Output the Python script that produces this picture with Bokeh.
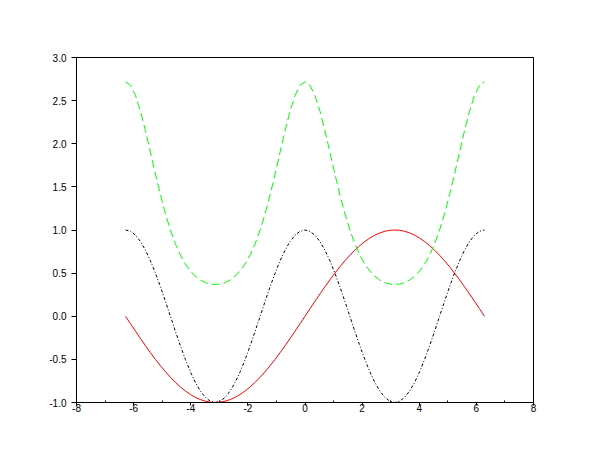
from bokeh.plotting import figure
from bokeh.models import Range1d, FixedTicker
from bokeh.embed import file_html
from bokeh.resources import INLINE

x_vals = [-6.283, -6.109, -5.934, -5.760, -5.585, -5.411, -5.236, -5.061, -4.887, -4.712,
          -4.538, -4.363, -4.189, -4.014, -3.840, -3.665, -3.491, -3.316, -3.142, -2.967,
          -2.793, -2.618, -2.443, -2.269, -2.094, -1.920, -1.745, -1.571, -1.396, -1.222,
          -1.047, -0.873, -0.698, -0.524, -0.349, -0.175, 0.0,
          0.175, 0.349, 0.524, 0.698, 0.873, 1.047, 1.222, 1.396, 1.571, 1.745,
          1.920, 2.094, 2.269, 2.443, 2.618, 2.793, 2.967, 3.142, 3.316, 3.491,
          3.665, 3.840, 4.014, 4.189, 4.363, 4.538, 4.712, 4.887, 5.061, 5.236,
          5.411, 5.585, 5.760, 5.934, 6.109, 6.283]

red_vals = [0.0, -0.0872, -0.1736, -0.2588, -0.3420, -0.4226, -0.5, -0.5736, -0.6428, -0.7071,
            -0.7660, -0.8192, -0.8660, -0.9063, -0.9397, -0.9659, -0.9848, -0.9962, -1.0,
            -0.9962, -0.9848, -0.9659, -0.9397, -0.9063, -0.8660, -0.8192, -0.7660, -0.7071,
            -0.6428, -0.5736, -0.5, -0.4226, -0.3420, -0.2588, -0.1736, -0.0872, 0.0,
            0.0872, 0.1736, 0.2588, 0.3420, 0.4226, 0.5, 0.5736, 0.6428, 0.7071,
            0.7660, 0.8192, 0.8660, 0.9063, 0.9397, 0.9659, 0.9848, 0.9962, 1.0,
            0.9962, 0.9848, 0.9659, 0.9397, 0.9063, 0.8660, 0.8192, 0.7660, 0.7071,
            0.6428, 0.5736, 0.5, 0.4226, 0.3420, 0.2588, 0.1736, 0.0872, 0.0]

green_vals = [2.7183, 2.6773, 2.5592, 2.3774, 2.1511, 1.9018, 1.6487, 1.4078, 1.1896, 1.0,
              0.8406, 0.7103, 0.6065, 0.5258, 0.4649, 0.4206, 0.3907, 0.3735, 0.3679,
              0.3735, 0.3907, 0.4206, 0.4649, 0.5258, 0.6065, 0.7103, 0.8406, 1.0,
              1.1896, 1.4078, 1.6487, 1.9018, 2.1511, 2.3774, 2.5592, 2.6773, 2.7183,
              2.6773, 2.5592, 2.3774, 2.1511, 1.9018, 1.6487, 1.4078, 1.1896, 1.0,
              0.8406, 0.7103, 0.6065, 0.5258, 0.4649, 0.4206, 0.3907, 0.3735, 0.3679,
              0.3735, 0.3907, 0.4206, 0.4649, 0.5258, 0.6065, 0.7103, 0.8406, 1.0,
              1.1896, 1.4078, 1.6487, 1.9018, 2.1511, 2.3774, 2.5592, 2.6773, 2.7183]

black_vals = [1.0, 0.9848, 0.9397, 0.8660, 0.7660, 0.6428, 0.5, 0.3420, 0.1736, 0.0,
              -0.1736, -0.3420, -0.5, -0.6428, -0.7660, -0.8660, -0.9397, -0.9848, -1.0,
              -0.9848, -0.9397, -0.8660, -0.7660, -0.6428, -0.5, -0.3420, -0.1736, 0.0,
              0.1736, 0.3420, 0.5, 0.6428, 0.7660, 0.8660, 0.9397, 0.9848, 1.0,
              0.9848, 0.9397, 0.8660, 0.7660, 0.6428, 0.5, 0.3420, 0.1736, 0.0,
              -0.1736, -0.3420, -0.5, -0.6428, -0.7660, -0.8660, -0.9397, -0.9848, -1.0,
              -0.9848, -0.9397, -0.8660, -0.7660, -0.6428, -0.5, -0.3420, -0.1736, 0.0,
              0.1736, 0.3420, 0.5, 0.6428, 0.7660, 0.8660, 0.9397, 0.9848, 1.0]

x_ticks = [-8, -6, -4, -2, 0, 2, 4, 6, 8]
x_minor = [-7, -5, -3, -1, 1, 3, 5, 7]
x_labels = ["-8", "-6", "-4", "-2", "0", "2", "4", "6", "8"]
y_ticks = [-1.0, -0.5, 0.0, 0.5, 1.0, 1.5, 2.0, 2.5, 3.0]
y_labels = ["-1.0", "-0.5", "0.0", "0.5", "1.0", "1.5", "2.0", "2.5", "3.0"]

p = figure(width=594, height=444, output_backend="svg", toolbar_location=None,
           x_range=Range1d(-8, 8), y_range=Range1d(-1, 3),
           min_border_left=76, min_border_right=61, min_border_top=57, min_border_bottom=42)
p.background_fill_color = "white"
p.border_fill_color = "white"
p.outline_line_color = "black"
p.outline_line_width = 1
p.outline_line_alpha = 1
p.grid.visible = False

p.line(x_vals, red_vals, line_color="#ff0000", line_width=1)
p.line(x_vals, green_vals, line_color="#00ff00", line_width=1, line_dash="8 4")
p.line(x_vals, black_vals, line_color="black", line_width=1, line_dash="3 2 1 2")

xa = p.xaxis[0]
xa.ticker = FixedTicker(ticks=x_ticks, minor_ticks=x_minor)
xa.major_label_overrides = {t: l for t, l in zip(x_ticks, x_labels)}
xa.major_tick_out = 3
xa.major_tick_in = 0
xa.minor_tick_in = 2
xa.minor_tick_out = 0
xa.major_label_standoff = -2

ya = p.yaxis[0]
ya.ticker = FixedTicker(ticks=y_ticks, minor_ticks=[])
ya.major_label_overrides = {t: l for t, l in zip(y_ticks, y_labels)}
ya.major_tick_out = 5
ya.major_tick_in = 0
ya.minor_tick_in = 0
ya.minor_tick_out = 0
ya.major_label_standoff = 5

for ax in (xa, ya):
    ax.axis_line_color = "black"
    ax.major_tick_line_color = "black"
    ax.minor_tick_line_color = "black"
    ax.major_label_text_font = "Liberation Sans"
    ax.major_label_text_font_size = "10px"
    ax.major_label_text_color = "black"

open("out.html", "w").write(file_html(p, INLINE))
